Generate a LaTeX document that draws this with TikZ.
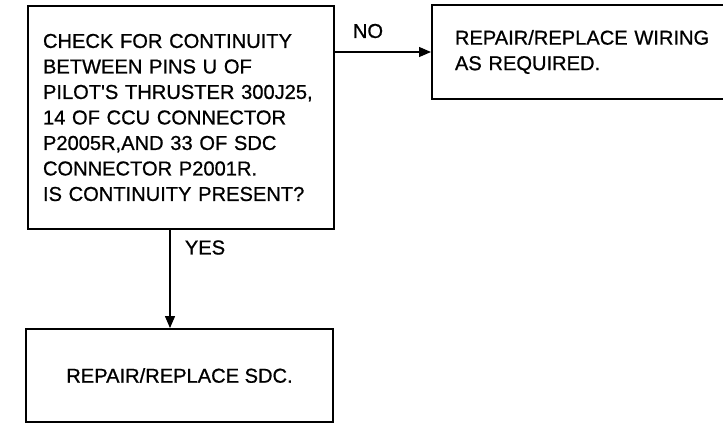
\documentclass[tikz,border=0pt]{standalone}
\usepackage{fontspec}
\setmainfont{Liberation Sans}
\newfontfamily\heavy{Liberation Sans}[FakeBold=0.8]
\usetikzlibrary{arrows.meta}
\begin{document}
\begin{tikzpicture}[x=1pt,y=-1pt,
  flowbox/.style={draw=black, line width=1.9pt, font=\heavy\fontsize{20.1}{25.5}\selectfont, inner sep=0pt},
  arr/.style={line width=1.2pt, -{Triangle[length=12pt,width=10pt]}},
  lbl/.style={font=\heavy\fontsize{20.1}{25.5}\selectfont, inner sep=0pt}]
\useasboundingbox (0,0) rectangle (723,423);
\clip (0,0) rectangle (723,423);
\node[flowbox, minimum width=306pt, minimum height=223pt, text width=276pt, align=left] (check) at (181,117.5)
  {CHECK FOR CONTINUITY\\BETWEEN PINS U OF\\PILOT\textquotesingle S THRUSTER 300J25,\\14 OF CCU CONNECTOR\\P2005R,AND 33 OF SDC\\CONNECTOR P2001R.\\IS CONTINUITY PRESENT?};
\node[flowbox, anchor=west, minimum height=94pt, text width=290pt, align=left, inner xsep=23pt] (wiring) at (431,52)
  {REPAIR/REPLACE WIRING\\AS REQUIRED.};
\node[flowbox, minimum width=307pt, minimum height=93pt] (sdc) at (179.5,375.5)
  {REPAIR/REPLACE SDC.};
\draw[arr] (check.east |- wiring.west) -- (wiring.west);
\draw[arr] ([xshift=-11pt]check.south) -- ([xshift=-11pt]check.south |- sdc.north);
\node[lbl] (no) at (368,31) {NO};
\node[lbl] (yes) at (205,247.5) {YES};
\end{tikzpicture}
\end{document}
